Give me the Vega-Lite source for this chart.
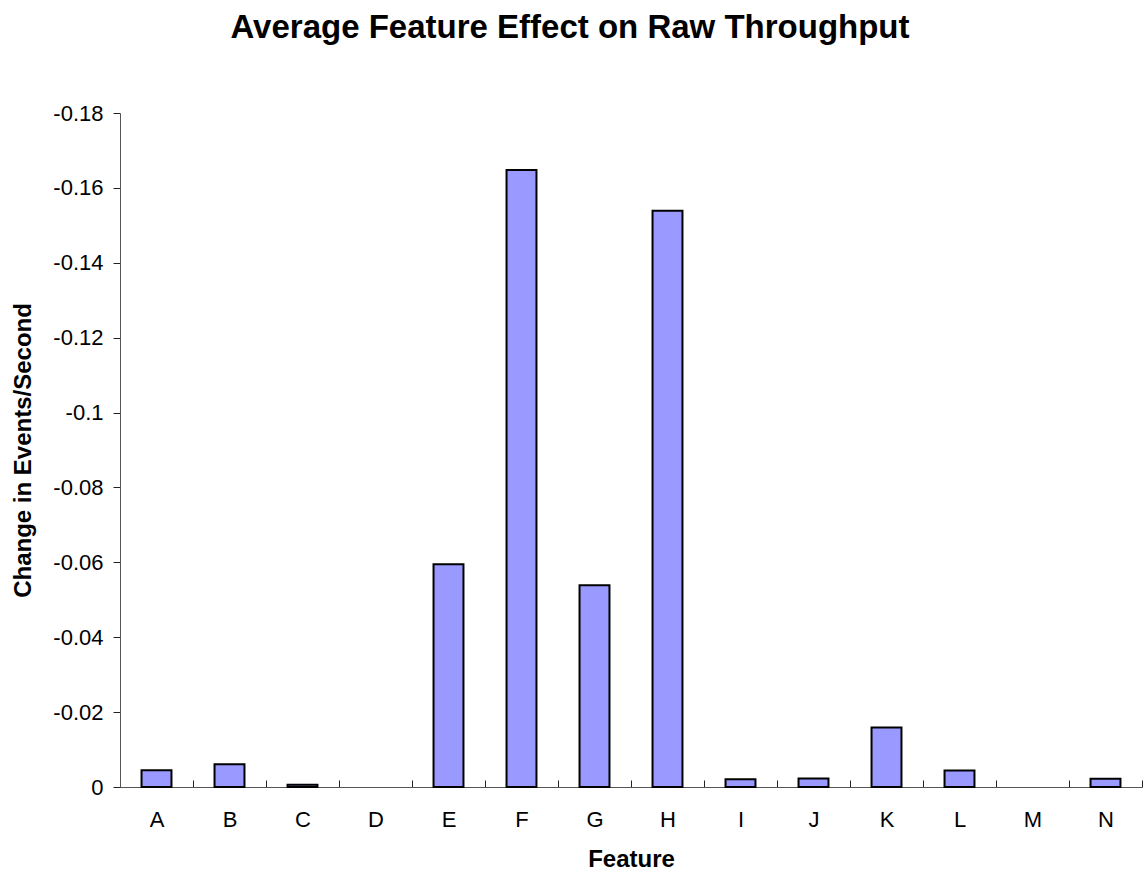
{
  "$schema": "https://vega.github.io/schema/vega-lite/v6.json",
  "width": 1022,
  "height": 674,
  "autosize": {"type": "none"},
  "padding": {"left": 120, "top": 113, "right": 2, "bottom": 89},
  "background": "white",
  "config": {"view": {"stroke": null}, "font": "Liberation Sans"},
  "title": {
    "text": "Average Feature Effect on Raw Throughput",
    "font": "Liberation Sans",
    "fontSize": 33,
    "fontWeight": "bold",
    "color": "black",
    "anchor": "middle",
    "dx": -61,
    "baseline": "alphabetic",
    "offset": 31
  },
  "data": {
    "values": [
      {"feature": "A", "change": -0.0045},
      {"feature": "B", "change": -0.0061},
      {"feature": "C", "change": -0.0006},
      {"feature": "D", "change": 0},
      {"feature": "E", "change": -0.0595},
      {"feature": "F", "change": -0.1648},
      {"feature": "G", "change": -0.0539},
      {"feature": "H", "change": -0.1539},
      {"feature": "I", "change": -0.0021},
      {"feature": "J", "change": -0.0023},
      {"feature": "K", "change": -0.0159},
      {"feature": "L", "change": -0.0044},
      {"feature": "M", "change": 0},
      {"feature": "N", "change": -0.0022}
    ]
  },
  "mark": {"type": "bar", "fill": "#9999FF", "stroke": "black", "width": {"band": 0.41}},
  "encoding": {
    "strokeWidth": {
      "condition": {"test": "datum.change === 0", "value": 0},
      "value": 2
    },
    "x": {
      "field": "feature",
      "type": "nominal",
      "sort": null,
      "scale": {"paddingInner": 0, "paddingOuter": 0},
      "axis": {
        "title": "Feature",
        "titleFont": "Liberation Sans",
        "titleFontSize": 24,
        "titleFontWeight": "bold",
        "titleColor": "black",
        "titlePadding": 17,
        "labelAngle": 0,
        "labelFont": "Liberation Sans",
        "labelFontSize": 22,
        "labelColor": "black",
        "labelPadding": 29,
        "tickBand": "extent",
        "tickSize": -7,
        "tickColor": "#222",
        "domainColor": "#555",
        "grid": false
      }
    },
    "y": {
      "field": "change",
      "type": "quantitative",
      "scale": {"domain": [-0.18, 0], "reverse": true, "nice": false, "zero": false},
      "axis": {
        "title": "Change in Events/Second",
        "titleFont": "Liberation Sans",
        "titleFontSize": 24,
        "titleFontWeight": "bold",
        "titleColor": "black",
        "titleAngle": -90,
        "titleX": -97,
        "titleAlign": "center",
        "titleBaseline": "middle",
        "values": [0, -0.02, -0.04, -0.06, -0.08, -0.1, -0.12, -0.14, -0.16, -0.18],
        "labelExpr": "datum.value == 0 ? '0' : '-' + format(-datum.value, '~g')",
        "labelFont": "Liberation Sans",
        "labelFontSize": 22,
        "labelColor": "black",
        "labelPadding": 10,
        "tickSize": 7,
        "tickColor": "#222",
        "domainColor": "#555",
        "grid": false
      }
    }
  }
}
